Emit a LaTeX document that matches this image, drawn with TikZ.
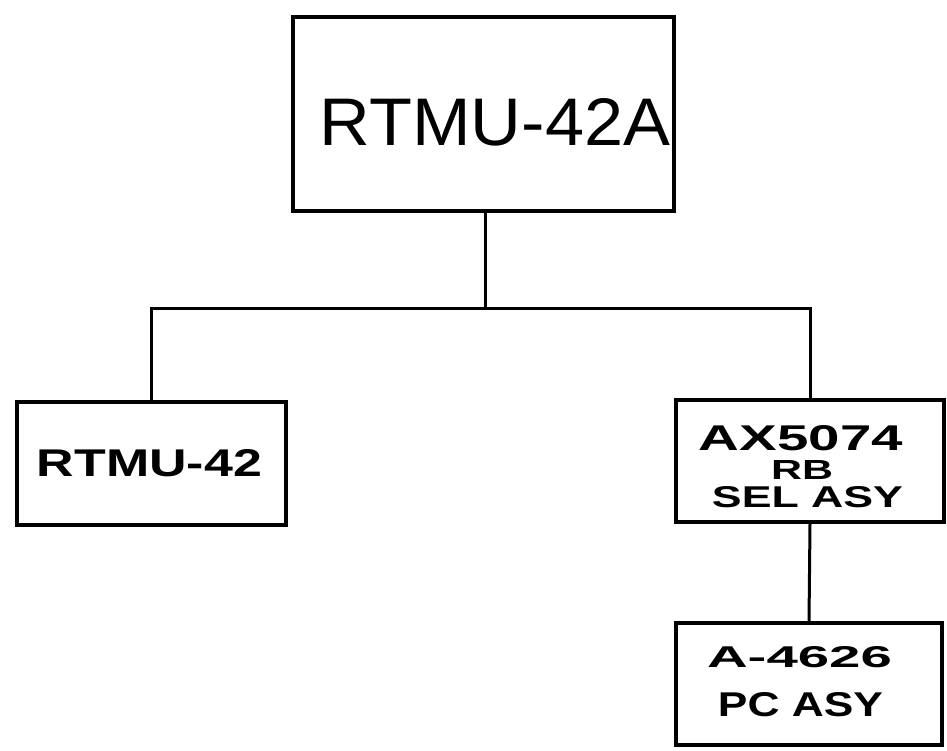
\documentclass[tikz,border=0pt]{standalone}
\usepackage{fontspec}
\setmainfont{Liberation Sans}
\usepackage{graphicx}
\begin{document}
\begin{tikzpicture}[x=1pt,y=-1pt,
  blk/.style={draw=black,line width=3.5pt,rectangle,inner sep=0pt},
  conn/.style={draw=black,line width=3pt},
  lbl/.style={inner sep=0pt,text=black}]
\fill[white] (0,0) rectangle (947,750);
\useasboundingbox (0,0) rectangle (947,750);
% boxes
\node[blk,minimum width=381pt,minimum height=194pt] (top) at (483.5,114) {};
\node[blk,minimum width=269pt,minimum height=123pt] (left) at (151.5,463.5) {};
\node[blk,minimum width=268pt,minimum height=122pt] (right) at (810,461) {};
\node[blk,minimum width=266pt,minimum height=122pt] (bottom) at (809,684) {};
% texts
\node[lbl] (t1) at (495,122) {\resizebox{350pt}{47pt}{RTMU-42A}};
\node[lbl] (t2) at (149.5,463.5) {\resizebox{225pt}{27pt}{\bfseries RTMU-42}};
\node[lbl] (t3a) at (801,438.5) {\resizebox{204pt}{25pt}{\bfseries AX5074}};
\node[lbl] (t3b) at (802,470) {\resizebox{62pt}{19pt}{\bfseries RB}};
\node[lbl] (t3c) at (807.5,497.5) {\resizebox{191pt}{21pt}{\bfseries SEL ASY}};
\node[lbl] (t4a) at (799.5,657.5) {\resizebox{185pt}{21pt}{\bfseries A-4626}};
\node[lbl] (t4b) at (800.5,705) {\resizebox{165pt}{24pt}{\bfseries PC ASY}};
% connectors
\coordinate (hj) at (485,308);
\draw[conn] (top.south -| hj) -- (hj);
\draw[conn] (left.north) -- (left.north |- hj) -- (right.north |- hj) -- (right.north);
\draw[conn] (right.south) -- (bottom.north);
\end{tikzpicture}
\end{document}
